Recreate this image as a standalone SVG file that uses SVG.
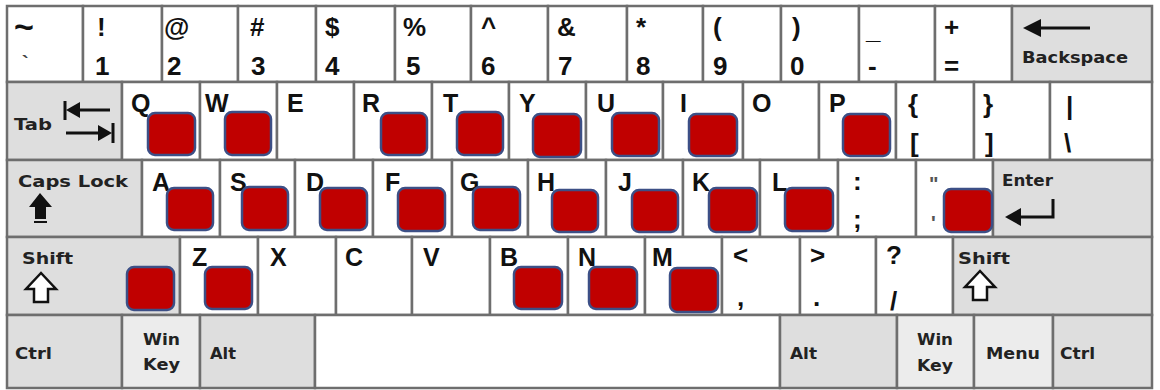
<svg xmlns="http://www.w3.org/2000/svg" width="1160" height="390" viewBox="0 0 1160 390">
<style>
.k{fill:#fff;stroke:#6e6e6e;stroke-width:2.5}
.m{fill:#dedede;stroke:#6e6e6e;stroke-width:2.5}
.l{fill:#ececec;stroke:#6e6e6e;stroke-width:2.5}
.t{font-family:"Liberation Sans",Arial,sans-serif;font-weight:bold;font-size:25px;fill:#111}
.d{font-family:"Liberation Sans",Arial,sans-serif;font-weight:bold;font-size:26px;fill:#111}
.s{font-family:"DejaVu Sans",Verdana,sans-serif;font-weight:bold;font-size:15px;fill:#222}
.r{fill:#c00000;stroke:#3c4f86;stroke-width:2.5}
.ar{fill:#111;stroke:none}
.ln{stroke:#111;stroke-width:3;fill:none}
.ho{fill:#fff;stroke:#111;stroke-width:2.5;stroke-linejoin:miter}
</style>
<rect x="0" y="0" width="1160" height="390" fill="#fff"/>
<!-- Row 1 -->
<g id="key-tilde"><rect class="k" x="7" y="6" width="76" height="76"/><text class="d" x="14" y="38" style="font-size:34px">~</text><text class="t" x="22" y="70" style="font-size:20px;fill:#444">`</text></g>
<g id="key-1"><rect class="k" x="83" y="6" width="79" height="76"/><text class="d" x="97" y="36">!</text><text class="d" x="95" y="75">1</text></g>
<g id="key-2"><rect class="k" x="162" y="6" width="76" height="76"/><text class="d" x="164" y="36">@</text><text class="d" x="167" y="75">2</text></g>
<g id="key-3"><rect class="k" x="238" y="6" width="78" height="76"/><text class="d" x="250" y="36">#</text><text class="d" x="251" y="75">3</text></g>
<g id="key-4"><rect class="k" x="316" y="6" width="79" height="76"/><text class="d" x="325" y="36">$</text><text class="d" x="325" y="75">4</text></g>
<g id="key-5"><rect class="k" x="395" y="6" width="76" height="76"/><text class="d" x="403" y="36">%</text><text class="d" x="406" y="75">5</text></g>
<g id="key-6"><rect class="k" x="471" y="6" width="77" height="76"/><text class="d" x="481" y="36">^</text><text class="d" x="481" y="75">6</text></g>
<g id="key-7"><rect class="k" x="548" y="6" width="79" height="76"/><text class="d" x="557" y="36">&amp;</text><text class="d" x="558" y="75">7</text></g>
<g id="key-8"><rect class="k" x="627" y="6" width="76" height="76"/><text class="d" x="636" y="36">*</text><text class="d" x="636" y="75">8</text></g>
<g id="key-9"><rect class="k" x="703" y="6" width="78" height="76"/><text class="d" x="713" y="36">(</text><text class="d" x="713" y="75">9</text></g>
<g id="key-0"><rect class="k" x="781" y="6" width="78" height="76"/><text class="d" x="792" y="36">)</text><text class="d" x="790" y="75">0</text></g>
<g id="key-minus"><rect class="k" x="859" y="6" width="76" height="76"/><text class="d" x="866" y="39">_</text><text class="d" x="868" y="75">-</text></g>
<g id="key-equal"><rect class="k" x="935" y="6" width="77" height="76"/><text class="d" x="944" y="36">+</text><text class="d" x="944" y="75">=</text></g>
<g id="key-backspace"><rect class="m" x="1012" y="6" width="140" height="76"/><line class="ln" x1="1036" y1="28" x2="1090" y2="28"/><path class="ar" d="M1023 28 L1041 19 L1041 37 Z"/><text class="s" x="1022" y="63" textLength="106" lengthAdjust="spacingAndGlyphs" style="font-size:16px">Backspace</text></g>
<!-- Row 2 -->
<g id="key-tab"><rect class="m" x="7" y="82" width="115" height="78"/><text class="s" x="14" y="130" textLength="38" lengthAdjust="spacingAndGlyphs">Tab</text><line class="ln" x1="65" y1="101" x2="65" y2="120"/><line class="ln" x1="74" y1="110" x2="110" y2="110"/><path class="ar" d="M66 110 L80 102 L80 118 Z"/><line class="ln" x1="66" y1="133" x2="100" y2="133"/><path class="ar" d="M112 133 L98 125 L98 141 Z"/><line class="ln" x1="113" y1="123" x2="113" y2="143"/></g>
<g id="key-q"><rect class="k" x="122" y="82" width="78" height="78"/><text class="t" x="131" y="112">Q</text></g>
<g id="key-w"><rect class="k" x="200" y="82" width="77" height="78"/><text class="t" x="205" y="112">W</text></g>
<g id="key-e"><rect class="k" x="277" y="82" width="77" height="78"/><text class="t" x="287" y="112">E</text></g>
<g id="key-r"><rect class="k" x="354" y="82" width="78" height="78"/><text class="t" x="362" y="112">R</text></g>
<g id="key-t"><rect class="k" x="432" y="82" width="77" height="78"/><text class="t" x="443" y="112">T</text></g>
<g id="key-y"><rect class="k" x="509" y="82" width="77" height="78"/><text class="t" x="519" y="112">Y</text></g>
<g id="key-u"><rect class="k" x="586" y="82" width="77" height="78"/><text class="t" x="597" y="112">U</text></g>
<g id="key-i"><rect class="k" x="663" y="82" width="80" height="78"/><text class="t" x="680" y="112">I</text></g>
<g id="key-o"><rect class="k" x="743" y="82" width="76" height="78"/><text class="t" x="752" y="112">O</text></g>
<g id="key-p"><rect class="k" x="819" y="82" width="77" height="78"/><text class="t" x="829" y="112">P</text></g>
<g id="key-lbracket"><rect class="k" x="896" y="82" width="78" height="78"/><text class="d" x="908" y="113">{</text><text class="d" x="910" y="152">[</text></g>
<g id="key-rbracket"><rect class="k" x="974" y="82" width="76" height="78"/><text class="d" x="983" y="113">}</text><text class="d" x="985" y="152">]</text></g>
<g id="key-backslash"><rect class="k" x="1050" y="82" width="102" height="78"/><text class="d" x="1066" y="115">|</text><text class="d" x="1064" y="152">\</text></g>
<!-- Row 3 -->
<g id="key-caps"><rect class="m" x="7" y="160" width="135" height="77"/><text class="s" x="18" y="187" textLength="110" lengthAdjust="spacingAndGlyphs">Caps Lock</text><path class="ar" d="M40 193 L29 207 L35 207 L35 219 L46 219 L46 207 L52 207 Z"/><line x1="34" y1="222" x2="47" y2="222" stroke="#111" stroke-width="2"/></g>
<g id="key-a"><rect class="k" x="142" y="160" width="78" height="77"/><text class="t" x="152" y="191">A</text></g>
<g id="key-s"><rect class="k" x="220" y="160" width="75" height="77"/><text class="t" x="230" y="191">S</text></g>
<g id="key-d"><rect class="k" x="295" y="160" width="78" height="77"/><text class="t" x="306" y="191">D</text></g>
<g id="key-f"><rect class="k" x="373" y="160" width="79" height="77"/><text class="t" x="385" y="191">F</text></g>
<g id="key-g"><rect class="k" x="452" y="160" width="76" height="77"/><text class="t" x="460" y="191">G</text></g>
<g id="key-h"><rect class="k" x="528" y="160" width="78" height="77"/><text class="t" x="537" y="191">H</text></g>
<g id="key-j"><rect class="k" x="606" y="160" width="77" height="77"/><text class="t" x="618" y="191">J</text></g>
<g id="key-k"><rect class="k" x="683" y="160" width="77" height="77"/><text class="t" x="692" y="191">K</text></g>
<g id="key-l"><rect class="k" x="760" y="160" width="78" height="77"/><text class="t" x="772" y="191">L</text></g>
<g id="key-semicolon"><rect class="k" x="838" y="160" width="78" height="77"/><text class="d" x="853" y="190">:</text><text class="d" x="853" y="228">;</text></g>
<g id="key-quote"><rect class="k" x="916" y="160" width="77" height="77"/><text class="d" x="929" y="191" style="fill:#555;font-size:20px">"</text><text class="d" x="931" y="230" style="fill:#555;font-size:20px">'</text></g>
<g id="key-enter"><rect class="m" x="993" y="160" width="159" height="77"/><text class="s" x="1002" y="186" textLength="51" lengthAdjust="spacingAndGlyphs">Enter</text><path class="ln" d="M1016 217 L1053 217 L1053 199"/><path class="ar" d="M1005 217 L1021 208 L1021 226 Z"/></g>
<!-- Row 4 -->
<g id="key-lshift"><rect class="m" x="7" y="237" width="173" height="78"/><text class="s" x="22" y="264" textLength="51" lengthAdjust="spacingAndGlyphs">Shift</text><path class="ho" d="M41 273 L26 289 L34 289 L34 302 L48 302 L48 289 L56 289 Z"/></g>
<g id="key-z"><rect class="k" x="180" y="237" width="78" height="78"/><text class="t" x="192" y="266">Z</text></g>
<g id="key-x"><rect class="k" x="258" y="237" width="78" height="78"/><text class="t" x="270" y="266">X</text></g>
<g id="key-c"><rect class="k" x="336" y="237" width="76" height="78"/><text class="t" x="345" y="266">C</text></g>
<g id="key-v"><rect class="k" x="412" y="237" width="78" height="78"/><text class="t" x="423" y="266">V</text></g>
<g id="key-b"><rect class="k" x="490" y="237" width="78" height="78"/><text class="t" x="500" y="266">B</text></g>
<g id="key-n"><rect class="k" x="568" y="237" width="77" height="78"/><text class="t" x="578" y="266">N</text></g>
<g id="key-m"><rect class="k" x="645" y="237" width="77" height="78"/><text class="t" x="652" y="266">M</text></g>
<g id="key-comma"><rect class="k" x="722" y="237" width="78" height="78"/><text class="d" x="733" y="264">&lt;</text><text class="d" x="737" y="306">,</text></g>
<g id="key-period"><rect class="k" x="800" y="237" width="76" height="78"/><text class="d" x="810" y="264">&gt;</text><text class="d" x="813" y="306">.</text></g>
<g id="key-slash"><rect class="k" x="876" y="237" width="77" height="78"/><text class="d" x="886" y="264">?</text><text class="d" x="890" y="310">/</text></g>
<g id="key-rshift"><rect class="m" x="953" y="237" width="199" height="78"/><text class="s" x="958" y="264" textLength="52" lengthAdjust="spacingAndGlyphs">Shift</text><path class="ho" d="M980 271 L965 287 L973 287 L973 300 L987 300 L987 287 L995 287 Z"/></g>
<!-- Row 5 -->
<g id="key-lctrl"><rect class="m" x="7" y="315" width="115" height="73"/><text class="s" x="15" y="359" textLength="37" lengthAdjust="spacingAndGlyphs">Ctrl</text></g>
<g id="key-lwin"><rect class="l" x="122" y="315" width="78" height="73"/><text class="s" x="143" y="345" textLength="37" lengthAdjust="spacingAndGlyphs">Win</text><text class="s" x="143" y="370" textLength="37" lengthAdjust="spacingAndGlyphs">Key</text></g>
<g id="key-lalt"><rect class="m" x="200" y="315" width="115" height="73"/><text class="s" x="210" y="359" textLength="26" lengthAdjust="spacingAndGlyphs">Alt</text></g>
<g id="key-space"><rect class="k" x="315" y="315" width="465" height="73"/></g>
<g id="key-ralt"><rect class="m" x="780" y="315" width="117" height="73"/><text class="s" x="790" y="359" textLength="27" lengthAdjust="spacingAndGlyphs">Alt</text></g>
<g id="key-rwin"><rect class="l" x="897" y="315" width="77" height="73"/><text class="s" x="917" y="345" textLength="36" lengthAdjust="spacingAndGlyphs">Win</text><text class="s" x="917" y="371" textLength="36" lengthAdjust="spacingAndGlyphs">Key</text></g>
<g id="key-menu"><rect class="l" x="974" y="315" width="79" height="73"/><text class="s" x="986" y="359" textLength="54" lengthAdjust="spacingAndGlyphs">Menu</text></g>
<g id="key-rctrl"><rect class="m" x="1053" y="315" width="99" height="73"/><text class="s" x="1060" y="359" textLength="35" lengthAdjust="spacingAndGlyphs">Ctrl</text></g>
<!-- Red markers -->
<g id="markers">
<rect class="r" x="148" y="113" width="47" height="42" rx="7"/>
<rect class="r" x="225" y="112" width="46" height="43" rx="7"/>
<rect class="r" x="381" y="113" width="46" height="42" rx="7"/>
<rect class="r" x="457" y="112" width="46" height="43" rx="7"/>
<rect class="r" x="533" y="114" width="48" height="43" rx="7"/>
<rect class="r" x="612" y="113" width="47" height="43" rx="7"/>
<rect class="r" x="689" y="114" width="48" height="42" rx="7"/>
<rect class="r" x="843" y="114" width="47" height="42" rx="7"/>
<rect class="r" x="167" y="188" width="46" height="42" rx="7"/>
<rect class="r" x="242" y="187" width="46" height="43" rx="7"/>
<rect class="r" x="320" y="188" width="47" height="42" rx="7"/>
<rect class="r" x="398" y="188" width="47" height="43" rx="7"/>
<rect class="r" x="473" y="187" width="47" height="43" rx="7"/>
<rect class="r" x="552" y="190" width="46" height="42" rx="7"/>
<rect class="r" x="632" y="190" width="46" height="42" rx="7"/>
<rect class="r" x="709" y="188" width="48" height="44" rx="7"/>
<rect class="r" x="785" y="188" width="48" height="43" rx="7"/>
<rect class="r" x="944" y="189" width="48" height="43" rx="7"/>
<rect class="r" x="127" y="267" width="47" height="43" rx="7"/>
<rect class="r" x="205" y="267" width="47" height="42" rx="7"/>
<rect class="r" x="514" y="267" width="48" height="42" rx="7"/>
<rect class="r" x="589" y="267" width="48" height="42" rx="7"/>
<rect class="r" x="670" y="268" width="48" height="44" rx="7"/>
</g>
</svg>
